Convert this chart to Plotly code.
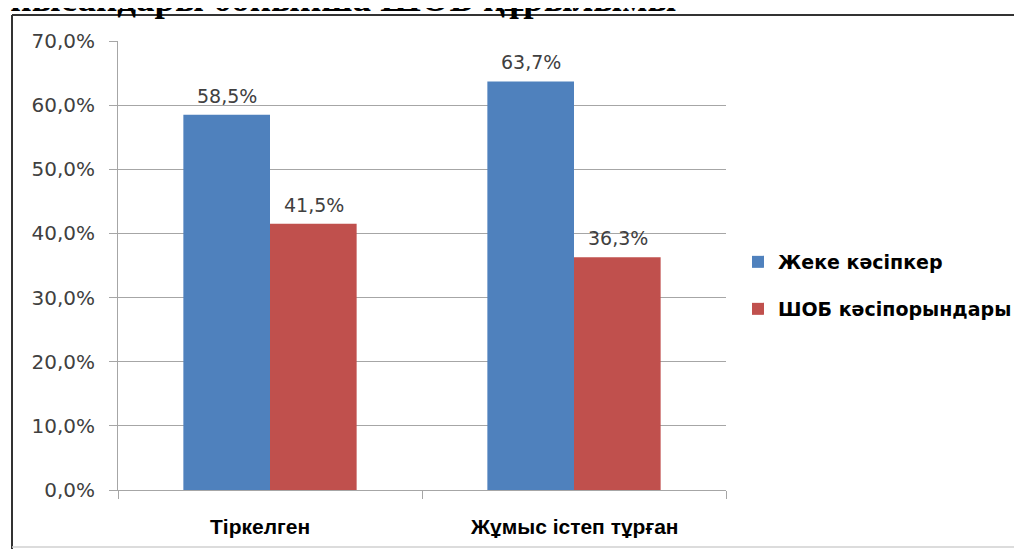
import plotly.graph_objects as go

categories = ["Тіркелген", "Жұмыс істеп тұрған"]
series_names = ["Жеке кәсіпкер", "ШОБ кәсіпорындары"]
values_ip = [58.5, 63.7]
values_sme = [41.5, 36.3]
colors = ["#4F81BD", "#C0504D"]
title_text = "Кәсіпкерлік нысандары бойынша ШОБ құрылымы"
y_tickvals = [0, 10, 20, 30, 40, 50, 60, 70]
y_ticktext = ["0,0%", "10,0%", "20,0%", "30,0%", "40,0%", "50,0%", "60,0%", "70,0%"]

OFF = 8  # page body margin
W, H = 1022, 549
# plot area in page pixels
PL, PR, PT, PB = 118, 726, 41, 490
L, T = PL - OFF, PT - OFF
R = W - (PR - OFF)
B = H - (PB - OFF)
pw, ph = PR - PL, PB - PT

def px_x(p):
    return (p - PL) / pw

def px_y(p):
    return (PB - p) / ph

fig = go.Figure()
for i, (name, vals) in enumerate([(series_names[0], values_ip), (series_names[1], values_sme)]):
    fig.add_trace(go.Bar(
        x=categories, y=vals, name="<b>" + name + "</b>",
        marker=dict(color=colors[i], line=dict(width=0)),
        legend="legend" if i == 0 else "legend2",
        offsetgroup=str(i),
    ))

annotations = []
label_font = dict(family="DejaVu Sans", size=19, color="#404040")
for i, vals in enumerate([values_ip, values_sme]):
    for c, v in zip(categories, vals):
        annotations.append(dict(
            x=c, y=v, xref="x", yref="y", text=f"{v:.1f}%".replace(".", ","),
            showarrow=False, yanchor="bottom", yshift=6,
            xshift=-43.5 if i == 0 else 43.5, font=label_font,
        ))

cat_shift = [-10, 0]
for c, s in zip(categories, cat_shift):
    annotations.append(dict(
        x=c, y=px_y(526), xref="x", yref="paper", text="<b>" + c + "</b>",
        showarrow=False, yanchor="middle", xshift=s,
        font=dict(family="Liberation Sans", size=21, color="#000000"),
    ))

annotations.append(dict(
    x=px_x(678), y=px_y(21), xref="paper", yref="paper",
    text="<b>" + title_text + "</b>", showarrow=False,
    xanchor="right", yanchor="bottom",
    font=dict(family="Liberation Serif", size=37, color="#000000"),
))

shapes = [
    dict(type="line", xref="paper", yref="paper", x0=px_x(12), x1=px_x(12),
         y0=px_y(15), y1=px_y(560), line=dict(color="#333333", width=2)),
    dict(type="line", xref="paper", yref="paper", x0=px_x(12), x1=px_x(1040),
         y0=px_y(15), y1=px_y(15), line=dict(color="#333333", width=2)),
    dict(type="line", xref="paper", yref="paper", x0=px_x(12), x1=px_x(1040),
         y0=px_y(547), y1=px_y(547), line=dict(color="#d0d0d0", width=1.5)),
]

legend_font = dict(family="DejaVu Sans", size=19, color="#000000")
fig.update_layout(
    width=W, height=H,
    margin=dict(l=L, r=R, t=T, b=B),
    paper_bgcolor="white", plot_bgcolor="white",
    separators=", ",
    bargap=0.43, bargroupgap=0,
    barmode="group",
    showlegend=True,
    legend=dict(x=px_x(738), y=px_y(262), xanchor="left", yanchor="middle",
                font=legend_font, bgcolor="rgba(0,0,0,0)"),
    legend2=dict(x=px_x(738), y=px_y(309), xanchor="left", yanchor="middle",
                 font=legend_font, bgcolor="rgba(0,0,0,0)"),
    xaxis=dict(showticklabels=False, showline=True, linecolor="#a6a6a6",
               linewidth=1, ticks="outside", ticklen=8, tickcolor="#a6a6a6",
               tickson="boundaries", showgrid=False, automargin=False),
    yaxis=dict(range=[0, 70], tickvals=y_tickvals, ticktext=y_ticktext,
               showline=True, linecolor="#a6a6a6", linewidth=1,
               ticks="outside", ticklen=8, tickcolor="#a6a6a6",
               gridcolor="#a6a6a6", gridwidth=1, zeroline=False,
               ticklabelstandoff=10, automargin=False,
               tickfont=dict(family="DejaVu Sans", size=20, color="#404040")),
    annotations=annotations,
    shapes=shapes,
)

fig.write_html("out.html")
